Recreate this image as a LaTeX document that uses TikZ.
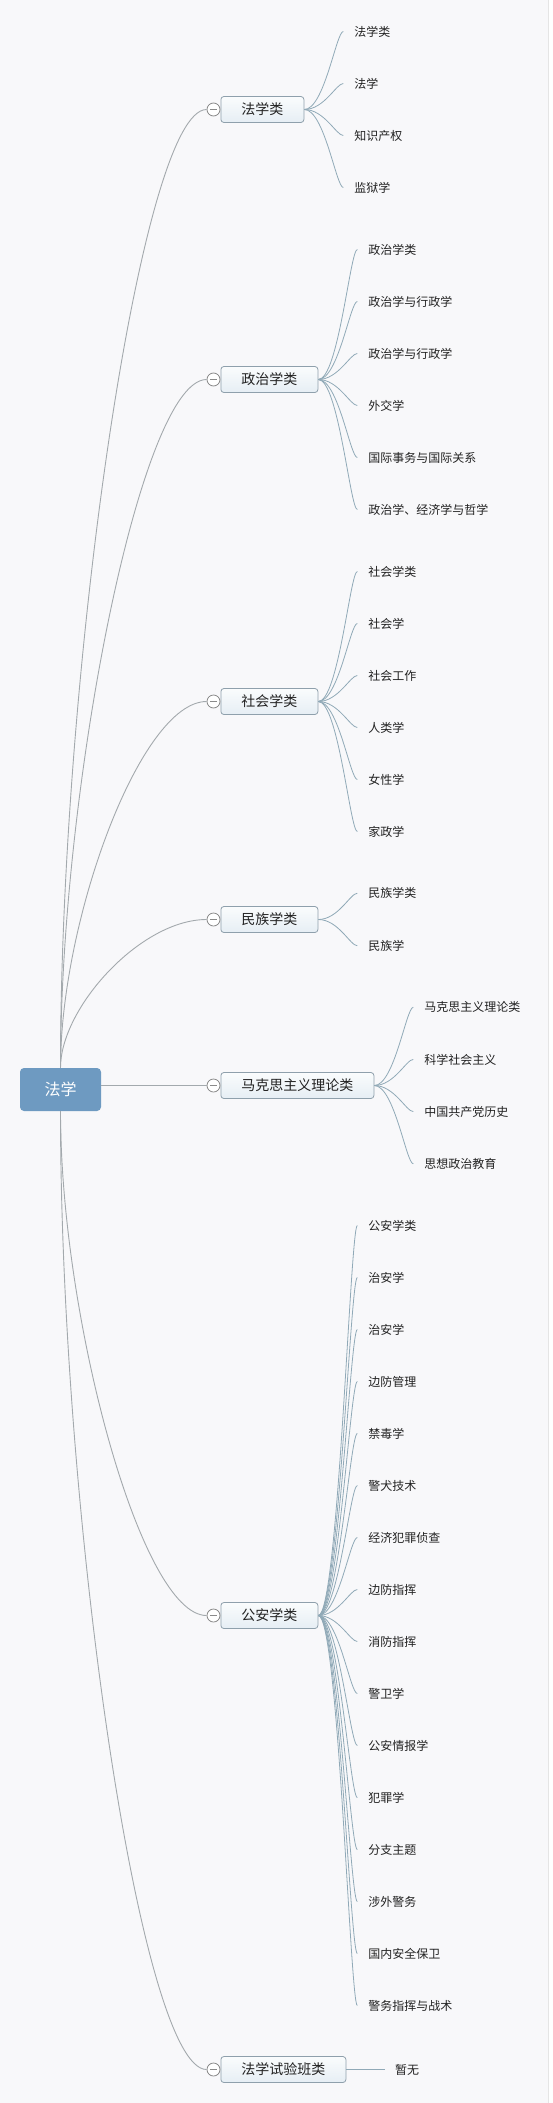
\documentclass[tikz,border=0pt]{standalone}
\usepackage{fontspec}
\setmainfont{Noto Sans CJK SC}
\definecolor{bgc}{HTML}{F8F8FA}
\definecolor{rootfill}{HTML}{6E9AC1}
\definecolor{boxdraw}{HTML}{8FA0AC}
\definecolor{boxtop}{HTML}{FAFCFD}
\definecolor{boxbottom}{HTML}{E6EEF4}
\definecolor{rootlinec}{HTML}{A3A9AD}
\definecolor{leaflinec}{HTML}{90A9B7}
\definecolor{foldc}{HTML}{8A8A8A}
\definecolor{txt}{HTML}{222222}
\begin{document}
\begin{tikzpicture}[x=1pt,y=-1pt,
  rootbox/.style={fill=rootfill, rounded corners=4pt, minimum width=81pt, minimum height=43pt,
    text=white, font=\fontsize{16}{18}\selectfont, inner sep=0pt},
  branch/.style={draw=boxdraw, line width=0.8pt, rounded corners=3pt, top color=boxtop,
    bottom color=boxbottom, minimum height=26pt, inner xsep=20.5pt, inner ysep=0pt,
    font=\fontsize{14}{16}\selectfont, text=txt, anchor=west},
  fold/.style={circle, draw=foldc, fill=white, line width=0.8pt, minimum size=13pt, inner sep=0pt,
    path picture={\draw[foldc, line width=0.8pt]
      ([xshift=-3.6pt]path picture bounding box.center) -- ([xshift=3.6pt]path picture bounding box.center);}},
  leaf/.style={anchor=west, inner xsep=10.8pt, inner ysep=1pt, font=\fontsize{12}{14}\selectfont, text=txt},
  rootline/.style={draw=rootlinec, line width=0.9pt},
  leafline/.style={draw=leaflinec, line width=0.8pt}]
\useasboundingbox (0,0) rectangle (552,2103);
\fill[bgc] (0,0) rectangle (548,2103);
\fill[white] (548,0) rectangle (552,2103);
\draw[black!10, line width=0.6pt] (548,0) -- (548,2103);

% root
\node[rootbox] (root) at (60.5,1089.5) {法学};

% branch boxes and fold circles
\node[branch] (b1) at (220.5,109.5) {法学类};
\node[fold] (c1) at (213.5,109.5) {};
\node[branch] (b2) at (220.5,379.5) {政治学类};
\node[fold] (c2) at (213.5,379.5) {};
\node[branch] (b3) at (220.5,701.5) {社会学类};
\node[fold] (c3) at (213.5,701.5) {};
\node[branch] (b4) at (220.5,919.5) {民族学类};
\node[fold] (c4) at (213.5,919.5) {};
\node[branch] (b5) at (220.5,1085.5) {马克思主义理论类};
\node[fold] (c5) at (213.5,1085.5) {};
\node[branch] (b6) at (220.5,1615.5) {公安学类};
\node[fold] (c6) at (213.5,1615.5) {};
\node[branch] (b7) at (220.5,2069.5) {法学试验班类};
\node[fold] (c7) at (213.5,2069.5) {};

% root connectors
\draw[rootline] (root.north) .. controls +(0,-395) and +(-66,0) .. (c1.west);
\draw[rootline] (root.north) .. controls +(0,-280) and +(-66,0) .. (c2.west);
\draw[rootline] (root.north) .. controls +(0,-148) and +(-66,0) .. (c3.west);
\draw[rootline] (root.north) .. controls +(0,-60) and +(-66,0) .. (c4.west);
\draw[rootline] (c5.west -| root.east) -- (c5.west);
\draw[rootline] (root.south) .. controls +(0,205) and +(-66,0) .. (c6.west);
\draw[rootline] (root.south) .. controls +(0,405) and +(-66,0) .. (c7.west);

% leaves
\foreach \t [count=\i] in {法学类,法学,知识产权,监狱学}{
  \node[leaf] (k1-\i) at ([shift={(39,{(\i-2.5)*52})}]b1.east) {\t};
  \draw[leafline] (b1.east) .. controls +(20,0) and +(-7,0) .. (k1-\i.west);
}
\foreach \t [count=\i] in {政治学类,政治学与行政学,政治学与行政学,外交学,国际事务与国际关系,政治学、经济学与哲学}{
  \node[leaf] (k2-\i) at ([shift={(39,{(\i-3.5)*52})}]b2.east) {\t};
  \draw[leafline] (b2.east) .. controls +(20,0) and +(-7,0) .. (k2-\i.west);
}
\foreach \t [count=\i] in {社会学类,社会学,社会工作,人类学,女性学,家政学}{
  \node[leaf] (k3-\i) at ([shift={(39,{(\i-3.5)*52})}]b3.east) {\t};
  \draw[leafline] (b3.east) .. controls +(20,0) and +(-7,0) .. (k3-\i.west);
}
\foreach \t [count=\i] in {民族学类,民族学}{
  \node[leaf] (k4-\i) at ([shift={(39,{(\i-1.5)*52.5})}]b4.east) {\t};
  \draw[leafline] (b4.east) .. controls +(20,0) and +(-7,0) .. (k4-\i.west);
}
\foreach \t [count=\i] in {马克思主义理论类,科学社会主义,中国共产党历史,思想政治教育}{
  \node[leaf] (k5-\i) at ([shift={(39,{(\i-2.5)*52.2})}]b5.east) {\t};
  \draw[leafline] (b5.east) .. controls +(20,0) and +(-7,0) .. (k5-\i.west);
}
\foreach \t [count=\i] in {公安学类,治安学,治安学,边防管理,禁毒学,警犬技术,经济犯罪侦查,边防指挥,消防指挥,警卫学,公安情报学,犯罪学,分支主题,涉外警务,国内安全保卫,警务指挥与战术}{
  \node[leaf] (k6-\i) at ([shift={(39,{(\i-8.5)*52})}]b6.east) {\t};
  \draw[leafline] (b6.east) .. controls +(20,0) and +(-7,0) .. (k6-\i.west);
}
\node[leaf, inner xsep=10pt] (k7-1) at (385,2069.5) {暂无};
\draw[leafline] (b7.east) -- (k7-1.west);
\end{tikzpicture}
\end{document}
